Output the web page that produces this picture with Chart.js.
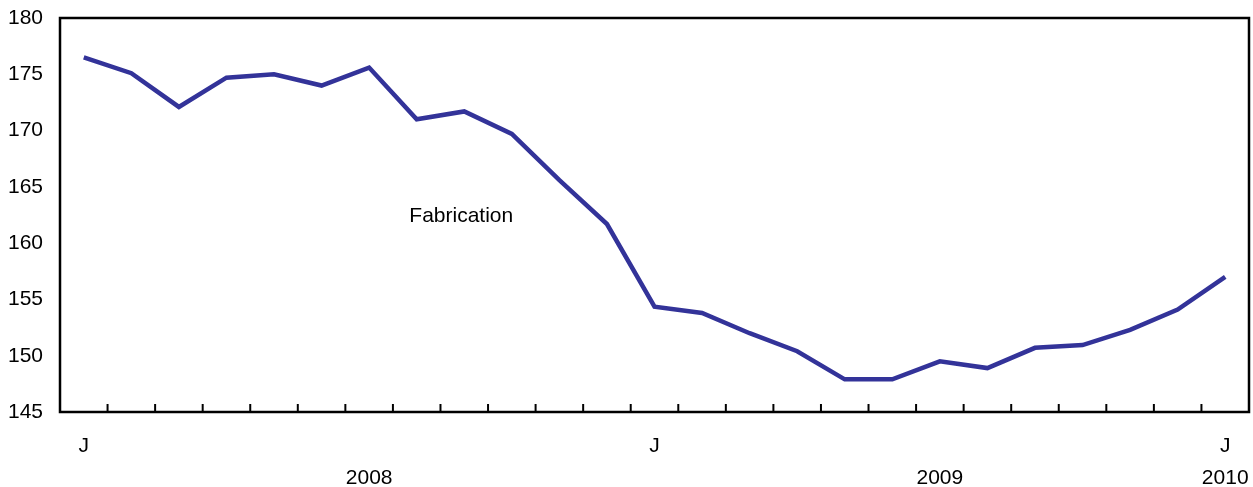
<!DOCTYPE html>
<html>
<head>
<meta charset="utf-8">
<script src="https://cdn.jsdelivr.net/npm/chart.js@4"></script>
<style>
  html, body { margin: 0; padding: 0; background: #fff; }
  #wrap { width: 1253px; height: 487px; position: relative; }
</style>
</head>
<body>
<div id="wrap"><canvas id="chart"></canvas></div>
<script>
// monthly values, Jan 2008 - Jan 2010
const months = ['J','','','','','','','','','','','','J','','','','','','','','','','','','J'];
const years = ['','','','','','','2008','','','','','','','','','','','','2009','','','','','','2010'];
const fabrication = [176.5, 175.1, 172.1, 174.7, 175.0, 174.0, 175.6, 171.0, 171.7, 169.7, 165.6, 161.7,
  154.35, 153.8, 152.0, 150.4, 147.9, 147.9, 149.5, 148.9, 150.7, 150.95, 152.3, 154.1, 157.0];
const yTicks = [145, 150, 155, 160, 165, 170, 175, 180];
const seriesLabel = 'Fabrication';

const FONT = "'Liberation Sans', Arial, Helvetica, sans-serif";

// frame round the plot + small ticks pointing up from the x axis
const framePlugin = {
  id: 'frame',
  afterDraw(chart) {
    const { ctx, chartArea: a, scales } = chart;
    const xs = scales.x, ys = scales.y;
    ctx.save();
    ctx.strokeStyle = '#000';
    ctx.lineWidth = 2.5;
    ctx.strokeRect(a.left, a.top, a.right - a.left, a.bottom - a.top);

    ctx.lineWidth = 2;
    for (let i = 1; i < months.length; i++) {
      const x = (xs.getPixelForValue(i - 1) + xs.getPixelForValue(i)) / 2;
      ctx.beginPath();
      ctx.moveTo(x, a.bottom - 8);
      ctx.lineTo(x, a.bottom);
      ctx.stroke();
    }

    // series label
    ctx.fillStyle = '#000';
    ctx.font = '21px ' + FONT;
    ctx.textAlign = 'center';
    ctx.textBaseline = 'middle';
    ctx.fillText(seriesLabel, xs.getPixelForValue(8) - 3, ys.getPixelForValue(162.4));
    ctx.restore();
  }
};

// fixed axis sizes, no automatic edge padding
const noPad = (scale) => {
  scale.paddingTop = 0;
  scale.paddingBottom = 0;
  scale.paddingLeft = 0;
  scale.paddingRight = 0;
};

new Chart(document.getElementById('chart'), {
  type: 'line',
  data: {
    labels: months,
    datasets: [{
      label: seriesLabel,
      data: fabrication,
      borderColor: '#333399',
      borderWidth: 4.5,
      pointRadius: 0,
      tension: 0,
      fill: false
    }]
  },
  options: {
    responsive: true,
    maintainAspectRatio: false,
    animation: false,
    layout: { padding: { top: 18, right: 4, left: 0, bottom: 0 } },
    plugins: {
      legend: { display: false },
      tooltip: { enabled: false }
    },
    scales: {
      x: {
        offset: true,
        grid: { display: false, drawTicks: false },
        border: { display: false },
        afterFit: (scale) => { scale.height = 75; noPad(scale); },
        ticks: {
          autoSkip: false,
          maxRotation: 0,
          padding: 18,
          color: '#000',
          font: { family: FONT, size: 21, lineHeight: 1.524 },
          callback: (val, i) => years[i] ? [months[i], years[i]] : months[i]
        }
      },
      y: {
        min: 145,
        max: 180,
        afterFit: (scale) => { scale.width = 60; noPad(scale); },
        afterBuildTicks: (scale) => { scale.ticks = yTicks.map(v => ({ value: v })); },
        grid: { display: false, drawTicks: false },
        border: { display: false },
        ticks: {
          padding: 17,
          color: '#000',
          font: { family: FONT, size: 21 }
        }
      }
    }
  },
  plugins: [framePlugin]
});
</script>
</body>
</html>
